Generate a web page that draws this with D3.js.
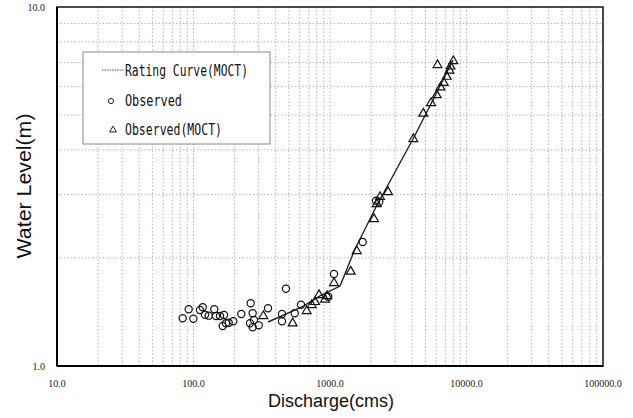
<!DOCTYPE html>
<html><head><meta charset="utf-8">
<script src="https://cdn.jsdelivr.net/npm/d3@7/dist/d3.min.js"></script>
<style>body{margin:0;background:#fff}svg{display:block}</style>
</head><body>
<svg id="c" width="633" height="418"></svg>
<script>
// Data
const xTicks = [10, 100, 1000, 10000, 100000];
const xTickLabels = ["10.0", "100.0", "1000.0", "10000.0", "100000.0"];
const yTicks = [1, 10];
const yTickLabels = ["1.0", "10.0"];

// Observed (circles): discharge (cms), water level (m)
const obsQ = [83.3, 92.2, 99.7, 111.6, 116.8, 121.4, 129.2, 142.0, 146.2, 156.4, 167.3, 163.7, 173.0, 181.1, 195.7, 224.0, 262.4, 271.4, 259.4, 271.4, 277.4, 300.5, 351.5, 476.0, 444.9, 444.9, 551.2, 613.0, 1069.8, 1736, 971.6, 2173, 2297];
const obsH = [1.358, 1.439, 1.354, 1.432, 1.457, 1.390, 1.381, 1.439, 1.378, 1.378, 1.387, 1.292, 1.315, 1.320, 1.332, 1.396, 1.495, 1.402, 1.315, 1.282, 1.343, 1.298, 1.448, 1.642, 1.396, 1.332, 1.402, 1.482, 1.804, 2.215, 1.560, 2.887, 2.869];

// Observed (MOCT) (triangles)
const moctQ = [324.7, 532.9, 675, 734, 777, 831, 919, 951, 1070, 1418, 1569, 2101, 2198, 2324, 2660, 4076, 4826, 5495, 6048, 6450, 6808, 7159, 7506, 7634, 8004, 6131];
const moctH = [1.378, 1.315, 1.423, 1.479, 1.508, 1.577, 1.532, 1.567, 1.703, 1.833, 2.091, 2.567, 2.827, 2.957, 3.052, 4.289, 5.050, 5.402, 5.686, 5.974, 6.153, 6.395, 6.655, 6.829, 7.072, 6.894];

// Rating curve (MOCT)
const rcQ = [351.5, 634.2, 844.9, 1184, 1525, 2173, 4055, 5683, 7963];
const rcH = [1.326, 1.465, 1.567, 1.670, 2.118, 2.773, 4.289, 5.508, 7.118];

const svg = d3.select("#c");
const L = 57, R = 603, T = 7, B = 366;
const x = d3.scaleLog().domain([10, 100000]).range([L, R]);
const y = d3.scaleLog().domain([1, 10]).range([B, T]);

// grid
const vgrid = [];
for (let k = 1; k <= 4; k++) for (let m = 1; m <= 9; m++) vgrid.push(m * Math.pow(10, k));
const hgrid = [2, 3, 4, 5, 6, 7, 8, 9];
const g = svg.append("g");
g.selectAll(".vg").data(vgrid.filter(d => d > 10)).enter().append("line")
  .attr("x1", d => x(d)).attr("x2", d => x(d)).attr("y1", T).attr("y2", B)
  .attr("stroke", "#b4b4b4").attr("stroke-width", 1).attr("stroke-dasharray", "1.5,2");
g.selectAll(".hg").data(hgrid).enter().append("line")
  .attr("y1", d => y(d)).attr("y2", d => y(d)).attr("x1", L).attr("x2", R)
  .attr("stroke", "#b4b4b4").attr("stroke-width", 1).attr("stroke-dasharray", "1.5,2");

// frame
svg.append("rect").attr("x", L).attr("y", T).attr("width", R - L).attr("height", B - T)
  .attr("fill", "none").attr("stroke", "#111").attr("stroke-width", 1.5);
svg.append("line").attr("x1", L).attr("x2", L).attr("y1", T).attr("y2", B).attr("stroke", "#000").attr("stroke-width", 2);
svg.append("line").attr("x1", L).attr("x2", R).attr("y1", B).attr("y2", B).attr("stroke", "#000").attr("stroke-width", 2);

// tick labels
svg.selectAll(".xl").data(xTicks).enter().append("text")
  .attr("x", d => x(d)).attr("y", 387).attr("text-anchor", "middle")
  .attr("font-family", "Liberation Serif, serif").attr("font-size", 10).attr("fill", "#222")
  .text((d, i) => xTickLabels[i]);
svg.selectAll(".yl").data(yTicks).enter().append("text")
  .attr("x", 45).attr("y", d => y(d) + 4).attr("text-anchor", "end")
  .attr("font-family", "Liberation Serif, serif").attr("font-size", 10).attr("fill", "#222")
  .text((d, i) => yTickLabels[i]);

// axis titles
svg.append("text").attr("x", 331).attr("y", 407).attr("text-anchor", "middle")
  .attr("font-family", "Liberation Sans, Arial, sans-serif").attr("font-size", 18).attr("fill", "#111")
  .attr("textLength", 126).attr("lengthAdjust", "spacingAndGlyphs").text("Discharge(cms)");
svg.append("text").attr("transform", "translate(31,186) rotate(-90)").attr("text-anchor", "middle")
  .attr("font-family", "Liberation Sans, Arial, sans-serif").attr("font-size", 21).attr("fill", "#111")
  .attr("textLength", 145).attr("lengthAdjust", "spacingAndGlyphs").text("Water Level(m)");

// rating curve
const rc = rcQ.map((q, i) => [q, rcH[i]]);
svg.append("path").datum(rc)
  .attr("d", d3.line().x(d => x(d[0])).y(d => y(d[1])))
  .attr("fill", "none").attr("stroke", "#222").attr("stroke-width", 1.4);

// circles
const obs = obsQ.map((q, i) => [q, obsH[i]]);
svg.selectAll(".ob").data(obs).enter().append("circle")
  .attr("cx", d => x(d[0])).attr("cy", d => y(d[1])).attr("r", 3.6)
  .attr("fill", "none").attr("stroke", "#111").attr("stroke-width", 1.2);

// triangles
const tri = d3.symbol().type(d3.symbolTriangle).size(34);
const moct = moctQ.map((q, i) => [q, moctH[i]]);
svg.selectAll(".tr").data(moct).enter().append("path")
  .attr("d", tri).attr("transform", d => `translate(${x(d[0])},${y(d[1])})`)
  .attr("fill", "none").attr("stroke", "#111").attr("stroke-width", 1.2);

// legend
const lg = svg.append("g");
lg.append("rect").attr("x", 83).attr("y", 52).attr("width", 187).attr("height", 92)
  .attr("fill", "#fff").attr("stroke", "#888").attr("stroke-width", 1);
lg.append("line").attr("x1", 102).attr("x2", 124).attr("y1", 70).attr("y2", 70)
  .attr("stroke", "#555").attr("stroke-width", 1.2).attr("stroke-dasharray", "1.5,1");
lg.append("circle").attr("cx", 111).attr("cy", 101).attr("r", 2.6)
  .attr("fill", "none").attr("stroke", "#222");
lg.append("path").attr("d", d3.symbol().type(d3.symbolTriangle).size(20))
  .attr("transform", "translate(113,130)").attr("fill", "none").attr("stroke", "#222");
const lf = "DejaVu Sans Mono, monospace";
lg.append("text").attr("x", 125).attr("y", 76).attr("font-family", lf).attr("font-size", 15)
  .attr("textLength", 123).attr("lengthAdjust", "spacingAndGlyphs").attr("fill", "#111").text("Rating Curve(MOCT)");
lg.append("text").attr("x", 125).attr("y", 106).attr("font-family", lf).attr("font-size", 15)
  .attr("textLength", 57).attr("lengthAdjust", "spacingAndGlyphs").attr("fill", "#111").text("Observed");
lg.append("text").attr("x", 125).attr("y", 135).attr("font-family", lf).attr("font-size", 15)
  .attr("textLength", 97).attr("lengthAdjust", "spacingAndGlyphs").attr("fill", "#111").text("Observed(MOCT)");
</script>
</body></html>
